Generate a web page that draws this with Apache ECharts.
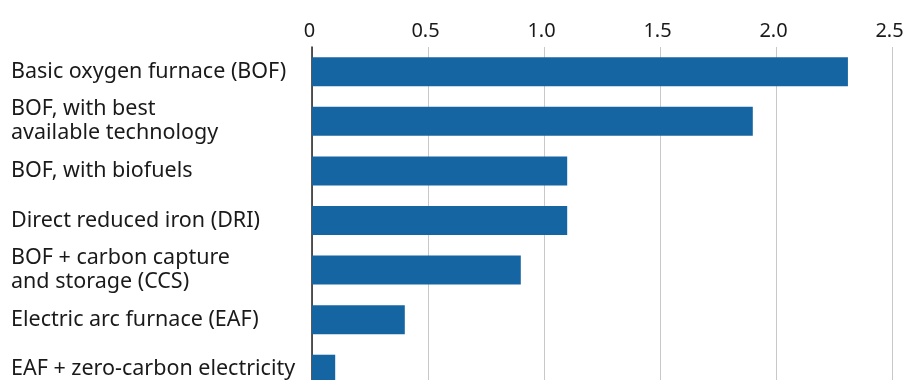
<!DOCTYPE html>
<html>
<head>
<meta charset="utf-8">
<script src="https://cdn.jsdelivr.net/npm/echarts@6/dist/echarts.min.js"></script>
<style>
html,body{margin:0;padding:0;background:#fff;}
#c{width:905px;height:380px;}
</style>
</head>
<body>
<div id="c"></div>
<script>
const categories = [
  "Basic oxygen furnace (BOF)",
  "BOF, with best\navailable technology",
  "BOF, with biofuels",
  "Direct reduced iron (DRI)",
  "BOF + carbon capture\nand storage (CCS)",
  "Electric arc furnace (EAF)",
  "EAF + zero-carbon electricity"
];
const values = [2.31, 1.9, 1.1, 1.1, 0.9, 0.4, 0.1];
const tickLabels = ["0", "0.5", "1.0", "1.5", "2.0", "2.5"];

const chart = echarts.init(document.getElementById('c'), null, {renderer: 'canvas'});
chart.setOption({
  animation: false,
  backgroundColor: '#ffffff',
  grid: {left: 312, right: 13, top: 47, height: 347, containLabel: false, outerBoundsMode: 'none'},
  xAxis: {
    type: 'value',
    position: 'top',
    min: 0, max: 2.5, interval: 0.5,
    axisLine: {show: false},
    axisTick: {show: false},
    splitLine: {show: true, lineStyle: {color: '#c8c8c8', width: 1}},
    axisLabel: {
      margin: 6,
      fontFamily: 'Noto Sans',
      fontSize: 20,
      color: '#1a1a1a',
      padding: [0, 5, 0, 0],
      formatter: function (v) {
        const i = Math.round(v / 0.5);
        return tickLabels[i] !== undefined ? tickLabels[i] : '';
      }
    }
  },
  yAxis: {
    type: 'category',
    data: categories,
    inverse: true,
    axisLine: {show: true, lineStyle: {color: '#222', width: 1.5}},
    axisTick: {show: false},
    splitLine: {show: false},
    axisLabel: {
      align: 'left',
      margin: 301,
      fontFamily: 'Noto Sans',
      fontSize: 21.5,
      lineHeight: 24,
      color: '#1a1a1a'
    }
  },
  series: [{
    type: 'bar',
    data: values,
    barWidth: 29,
    itemStyle: {color: '#1665a3'},
    silent: true
  }]
});
</script>
</body>
</html>
